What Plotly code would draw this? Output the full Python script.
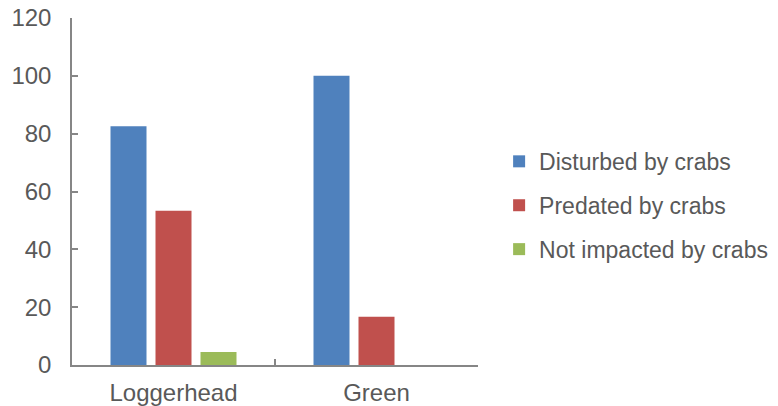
import plotly.graph_objects as go

# Nest outcomes by species
species = ["Loggerhead", "Green"]
disturbed = [82.6, 100]
predated = [53.3, 16.7]
not_impacted = [4.5, 0]

series = [
    ("Disturbed by crabs", disturbed, "#4F81BD"),
    ("Predated by crabs", predated, "#C0504D"),
    ("Not impacted by crabs", not_impacted, "#9BBB59"),
]

font_family = "Liberation Sans, Arial, sans-serif"
text_color = "#595959"
axis_color = "#868686"

fig = go.Figure()
for i, (name, vals, color) in enumerate(series):
    fig.add_trace(go.Bar(
        x=species, y=vals, name=name,
        marker=dict(color=color, line=dict(width=0)),
        legendgroup=f"g{i}",
    ))

fig.update_layout(
    width=778, height=406,
    margin=dict(l=72, r=300, t=18, b=41, autoexpand=False),
    paper_bgcolor="white", plot_bgcolor="white",
    barmode="group", bargap=0.335, bargroupgap=0.2,
    font=dict(family=font_family, size=24, color=text_color),
    legend=dict(
        x=1.052, y=0.46, xanchor="left", yanchor="middle",
        traceorder="grouped", tracegroupgap=11,
        font=dict(family=font_family, size=23, color=text_color),
        itemwidth=30,
    ),
    showlegend=True,
)

fig.update_yaxes(
    range=[0, 120], dtick=20, tick0=0,
    showgrid=False, zeroline=False,
    showline=True, linecolor=axis_color, linewidth=1.5,
    ticks="inside", ticklen=6, tickcolor=axis_color, tickwidth=1.5,
    ticklabelstandoff=14,
    tickfont=dict(size=24, color=text_color),
)
fig.update_xaxes(
    showgrid=False, zeroline=False,
    showline=True, linecolor=axis_color, linewidth=1.5,
    ticks="inside", ticklen=6, tickcolor=axis_color, tickwidth=1.5,
    tickson="boundaries",
    ticklabelstandoff=5,
    tickfont=dict(size=24, color=text_color),
)

fig.write_html("out.html")
